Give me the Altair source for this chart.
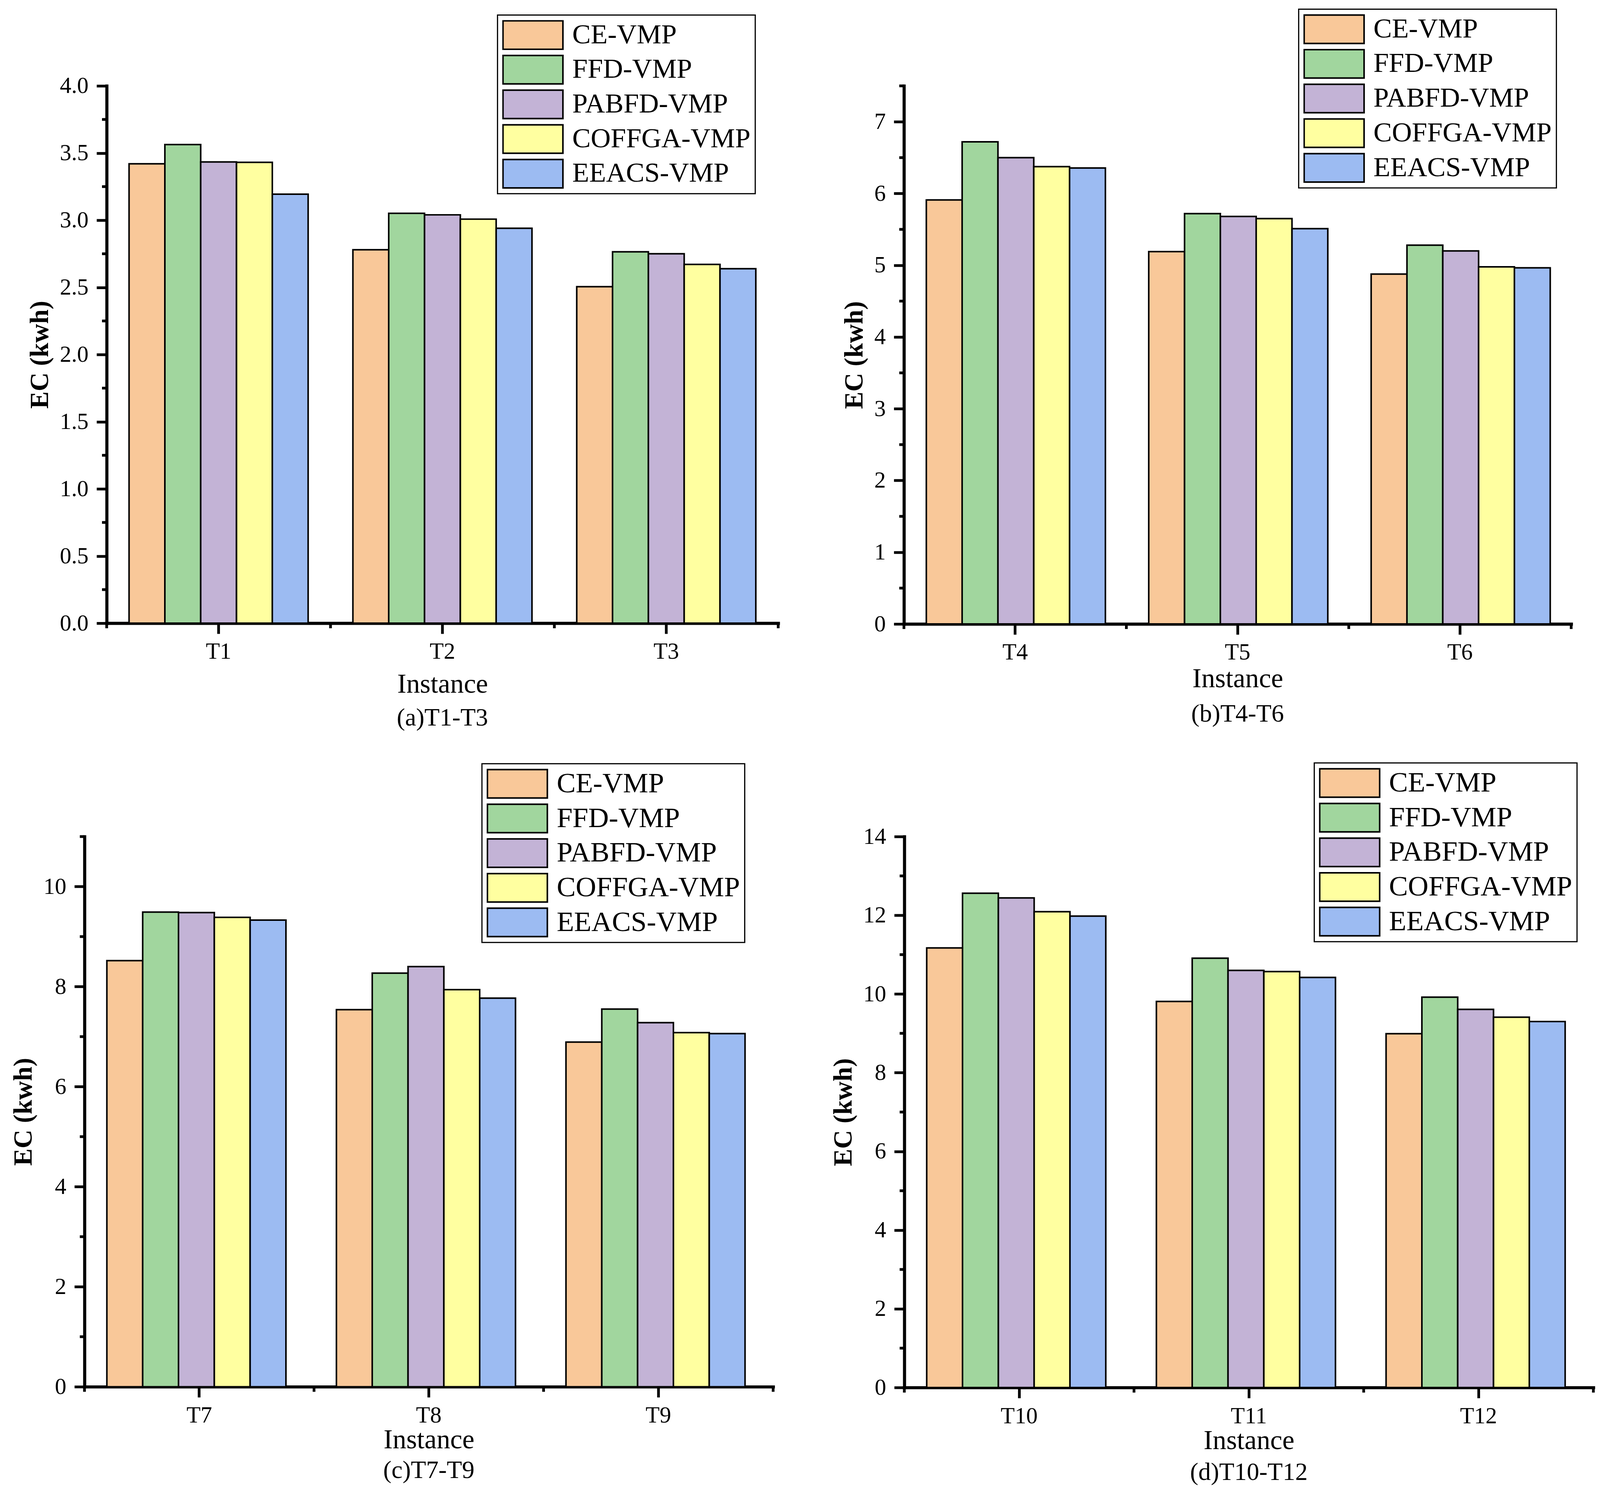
import altair as alt
import pandas as pd

# ---------------- data ----------------
methods = ["CE-VMP", "FFD-VMP", "PABFD-VMP", "COFFGA-VMP", "EEACS-VMP"]
colors = ["#F9C899", "#A1D69E", "#C3B3D6", "#FFFFA0", "#9CBBF2"]

inst_a = ["T1", "T2", "T3"]
ce_a = [3.42, 2.78, 2.505]
ffd_a = [3.563, 3.051, 2.765]
pabfd_a = [3.434, 3.040, 2.750]
coffga_a = [3.431, 3.008, 2.671]
eeacs_a = [3.194, 2.940, 2.639]

inst_b = ["T4", "T5", "T6"]
ce_b = [5.91, 5.19, 4.877]
ffd_b = [6.72, 5.72, 5.28]
pabfd_b = [6.50, 5.68, 5.20]
coffga_b = [6.375, 5.65, 4.978]
eeacs_b = [6.355, 5.51, 4.964]

inst_c = ["T7", "T8", "T9"]
ce_c = [8.52, 7.54, 6.89]
ffd_c = [9.49, 8.27, 7.55]
pabfd_c = [9.48, 8.40, 7.28]
coffga_c = [9.385, 7.94, 7.08]
eeacs_c = [9.33, 7.77, 7.06]

inst_d = ["T10", "T11", "T12"]
ce_d = [11.17, 9.81, 8.99]
ffd_d = [12.56, 10.91, 9.92]
pabfd_d = [12.44, 10.60, 9.61]
coffga_d = [12.09, 10.57, 9.41]
eeacs_d = [11.98, 10.42, 9.30]

major_a = [0.0, 0.5, 1.0, 1.5, 2.0, 2.5, 3.0, 3.5, 4.0]
minor_a = [0.25, 0.75, 1.25, 1.75, 2.25, 2.75, 3.25, 3.75]
major_b = [0, 1, 2, 3, 4, 5, 6, 7]
minor_b = [0.5, 1.5, 2.5, 3.5, 4.5, 5.5, 6.5, 7.5]
major_c = [0, 2, 4, 6, 8, 10]
minor_c = [1, 3, 5, 7, 9, 11]
major_d = [0, 2, 4, 6, 8, 10, 12, 14]
minor_d = [1, 3, 5, 7, 9, 11, 13]

FONT = "Liberation Serif"
LEGEND_PATH = "M-1,-0.474H1V0.474H-1Z"


def frame(insts, series):
    rows = []
    for m, vals in zip(methods, series):
        for i, v in zip(insts, vals):
            rows.append({"inst": i, "method": m, "value": v})
    return pd.DataFrame(rows)


def panel(insts, series, ymax, major, minor, fmt, label, lay):
    df = frame(insts, series)
    h = lay["h"]
    xscale = alt.Scale(domain=insts, paddingInner=0, paddingOuter=0)
    yscale = alt.Scale(domain=[0, ymax], nice=False, zero=True)
    xaxis = alt.Axis(titleFontSize=70, titleFontWeight="normal", titlePadding=lay["tp"],
                     tickSize=27, labelPadding=17, labelAngle=0)
    yaxis = alt.Axis(values=major, format=fmt, tickSize=26, labelPadding=21,
                     titleFontSize=67, titleFontWeight="bold", titlePadding=16)

    def X(**kw):
        return alt.X("inst:N", sort=insts, title="Instance", scale=xscale, axis=xaxis, **kw)

    def Y():
        return alt.Y("value:Q", title="EC (kwh)", scale=yscale, axis=yaxis)

    bars = alt.Chart(df).mark_bar(stroke="black", strokeWidth=4).encode(
        x=X(),
        xOffset=alt.XOffset("method:N", sort=methods,
                            scale=alt.Scale(domain=methods, paddingInner=0, paddingOuter=0.625)),
        y=Y(),
        color=alt.Color("method:N", sort=methods,
                        scale=alt.Scale(domain=methods, range=colors),
                        legend=alt.Legend(orient="none", legendX=lay["lx"], legendY=lay["ly"],
                                          title=None, symbolType=LEGEND_PATH,
                                          symbolSize=23716, symbolStrokeColor="black",
                                          symbolStrokeWidth=4, clipHeight=79,
                                          labelFont=FONT, labelFontSize=lay["lfs"],
                                          labelColor="black", labelLimit=1000,
                                          labelOffset=22, rowPadding=10, padding=12,
                                          strokeColor="black")),
    )

    # minor ticks on the value axis
    minor_df = pd.DataFrame({"value": minor})
    yminor = alt.Chart(minor_df).mark_rule(color="black", strokeWidth=7).encode(
        y=Y(),
        x=alt.value(0),
        x2=alt.value(-12),
    )

    # short ticks at the category boundaries
    bound_df = pd.DataFrame({"inst": insts})
    xbound = alt.Chart(bound_df).mark_rule(color="black", strokeWidth=7).encode(
        x=X(bandPosition=0),
        y=alt.value(h),
        y2=alt.value(h + 13),
    )
    last_df = pd.DataFrame({"inst": insts[-1:]})
    xlast = alt.Chart(last_df).mark_rule(color="black", strokeWidth=7).encode(
        x=X(bandPosition=1),
        y=alt.value(h),
        y2=alt.value(h + 13),
    )

    return alt.layer(bars, yminor, xbound, xlast).properties(
        width=lay["w"], height=h,
        title=alt.TitleParams(text=label, orient="bottom", anchor="middle", frame="group",
                              font=FONT, fontSize=64, fontWeight="normal", color="black",
                              offset=lay["so"]),
    )


lay_a = dict(w=1725, h=1380, tp=20, so=20, lx=1004, ly=-182, lfs=71)
lay_b = dict(w=1714, h=1382, tp=4, so=24, lx=1014, ly=-197, lfs=71)
lay_c = dict(w=1769, h=1413, tp=0, so=11, lx=1021, ly=-187, lfs=73)
lay_d = dict(w=1770, h=1415, tp=0, so=14, lx=1053, ly=-189, lfs=73)

pa = panel(inst_a, [ce_a, ffd_a, pabfd_a, coffga_a, eeacs_a], 4.0, major_a, minor_a, ".1f", "(a)T1-T3", lay_a)
pb = panel(inst_b, [ce_b, ffd_b, pabfd_b, coffga_b, eeacs_b], 7.5, major_b, minor_b, "d", "(b)T4-T6", lay_b)
pc = panel(inst_c, [ce_c, ffd_c, pabfd_c, coffga_c, eeacs_c], 11, major_c, minor_c, "d", "(c)T7-T9", lay_c)
pd_ = panel(inst_d, [ce_d, ffd_d, pabfd_d, coffga_d, eeacs_d], 14, major_d, minor_d, "d", "(d)T10-T12", lay_d)

row1 = alt.hconcat(pa, pb, spacing=158).resolve_scale(color="independent")
row2 = alt.hconcat(pc, pd_, spacing=142).resolve_scale(color="independent")

chart = alt.vconcat(row1, row2, spacing=80, center=True).resolve_scale(
    color="independent"
).properties(
    background="white", padding={"left": 18, "top": 7, "right": 5, "bottom": 5},
).configure_axis(
    labelFont=FONT, titleFont=FONT, labelFontSize=59, labelColor="black", titleColor="black",
    domainColor="black", tickColor="black", domainWidth=8, tickWidth=7, grid=False,
    domainCap="square",
).configure_legend(strokeWidth=3).configure_view(stroke="transparent")

chart.save("out.html", embed_options={"renderer": "svg", "actions": False})
